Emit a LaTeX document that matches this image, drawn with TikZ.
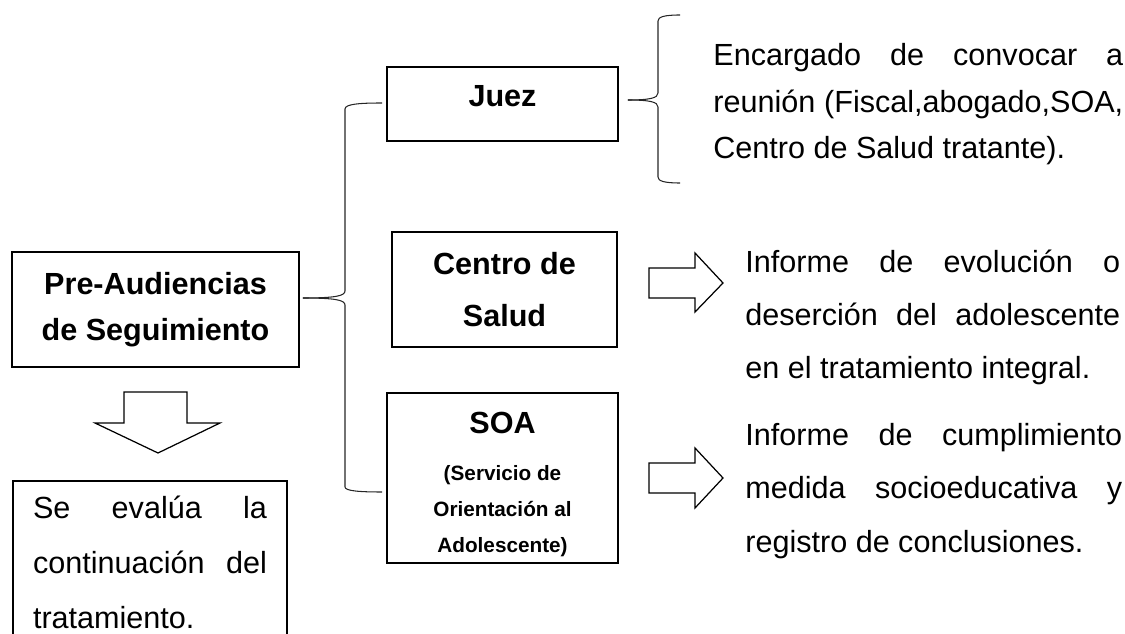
\documentclass[tikz,border=0pt]{standalone}
\usepackage{fontspec}
\setmainfont{Liberation Sans}
\usetikzlibrary{positioning,calc}
\tolerance=10000

\begin{document}
\begin{tikzpicture}
    [x=0.02cm, y=-0.02cm,
     caja/.style = {draw, line width=1pt, inner sep=0pt, align=center, font=\bfseries\fontsize{17.4}{26}\selectfont},
     texto/.style = {inner sep=0pt, align=justify, anchor=base west},
     llave/.style = {line width=0.6pt, black!85},
     hueco/.style = {draw, line width=0.7pt, line join=miter}]

    \useasboundingbox (0,0) rectangle (1125,634);
    \clip (0,0) rectangle (1125,634);

    % cajas
    \node[caja, minimum width=5.74cm, minimum height=2.3cm] (pre) at (155.5,309.5) {Pre-Audiencias\\de Seguimiento};
    \node[caja, minimum width=4.62cm, minimum height=1.48cm, text height=0.44cm, text depth=0.32cm] (juez) at (502.5,104) {Juez};
    \node[caja, minimum width=4.5cm, minimum height=2.3cm, font=\bfseries\fontsize{17.4}{30}\selectfont] (centro) at (504.5,289.5) {Centro de\\Salud};
    \node[caja, minimum width=4.62cm, minimum height=3.4cm, font=\bfseries\fontsize{11.8}{20.5}\selectfont] (soa) at (502.5,478)
        {{\fontsize{17.4}{20.5}\selectfont\rule{0pt}{19.5pt}SOA}\\[6pt](Servicio de\\Orientación al\\Adolescente)};
    \node[draw, line width=1pt, anchor=north, inner xsep=0.4cm, inner ysep=0.3cm, text width=4.68cm, align=justify,
          font=\fontsize{17.4}{31.3}\selectfont] (eval) at (150,480)
        {Se evalúa la\linebreak continuación del\linebreak tratamiento.};

    % textos
    \node[texto, text width=8.2cm, font=\fontsize{17.4}{26.2}\selectfont] (t1) at (713,66)
        {Encargado de convocar a\linebreak reunión (Fiscal,abogado,SOA,\linebreak Centro de Salud tratante).};
    \node[texto, text width=7.5cm, font=\fontsize{17.4}{29.9}\selectfont] (t2) at (745,273)
        {Informe de evolución o\linebreak deserción del adolescente\linebreak en el tratamiento integral.};
    \node[texto, text width=7.54cm, font=\fontsize{17.4}{30.7}\selectfont] (t3) at (745,445)
        {Informe de cumplimiento\linebreak medida socioeducativa y\linebreak registro de conclusiones.};

    % llaves
    \coordinate (p1) at ($(pre.east)+(3,-11.5)$);
    \draw[llave] (p1) .. controls (335,298) and (345,296) .. (345,291) -- (345,109)
        .. controls (345,104) and (360,103) .. ($(juez.west)+(-4,-1)$);
    \draw[llave] (p1) .. controls (335,298) and (345,300) .. (345,305) -- (345,487)
        .. controls (345,491) and (360,492) .. ($(soa.west)+(-4,14)$);
    \coordinate (p2) at ($(juez.east)+(9,-4)$);
    \draw[llave] (p2) .. controls (650,100) and (658,98) .. (658,93) -- (658,21)
        .. controls (658,17) and (664,15) .. (680,15);
    \draw[llave] (p2) .. controls (650,100) and (658,102) .. (658,107) -- (658,177)
        .. controls (658,181) and (664,183) .. (680,183);

    % flechas huecas
    \draw[hueco] (649,268) -- (695,268) -- (695,253) -- (723,283) -- (695,312) -- (695,298) -- (649,298) -- cycle;
    \draw[hueco] (649,463) -- (695,463) -- (695,448) -- (723,478) -- (695,508) -- (695,493) -- (649,493) -- cycle;
    \draw[hueco] (124,392) -- (187,392) -- (187,423) -- (220,423) -- (158,453) -- (95,423) -- (124,423) -- cycle;
\end{tikzpicture}
\end{document}
